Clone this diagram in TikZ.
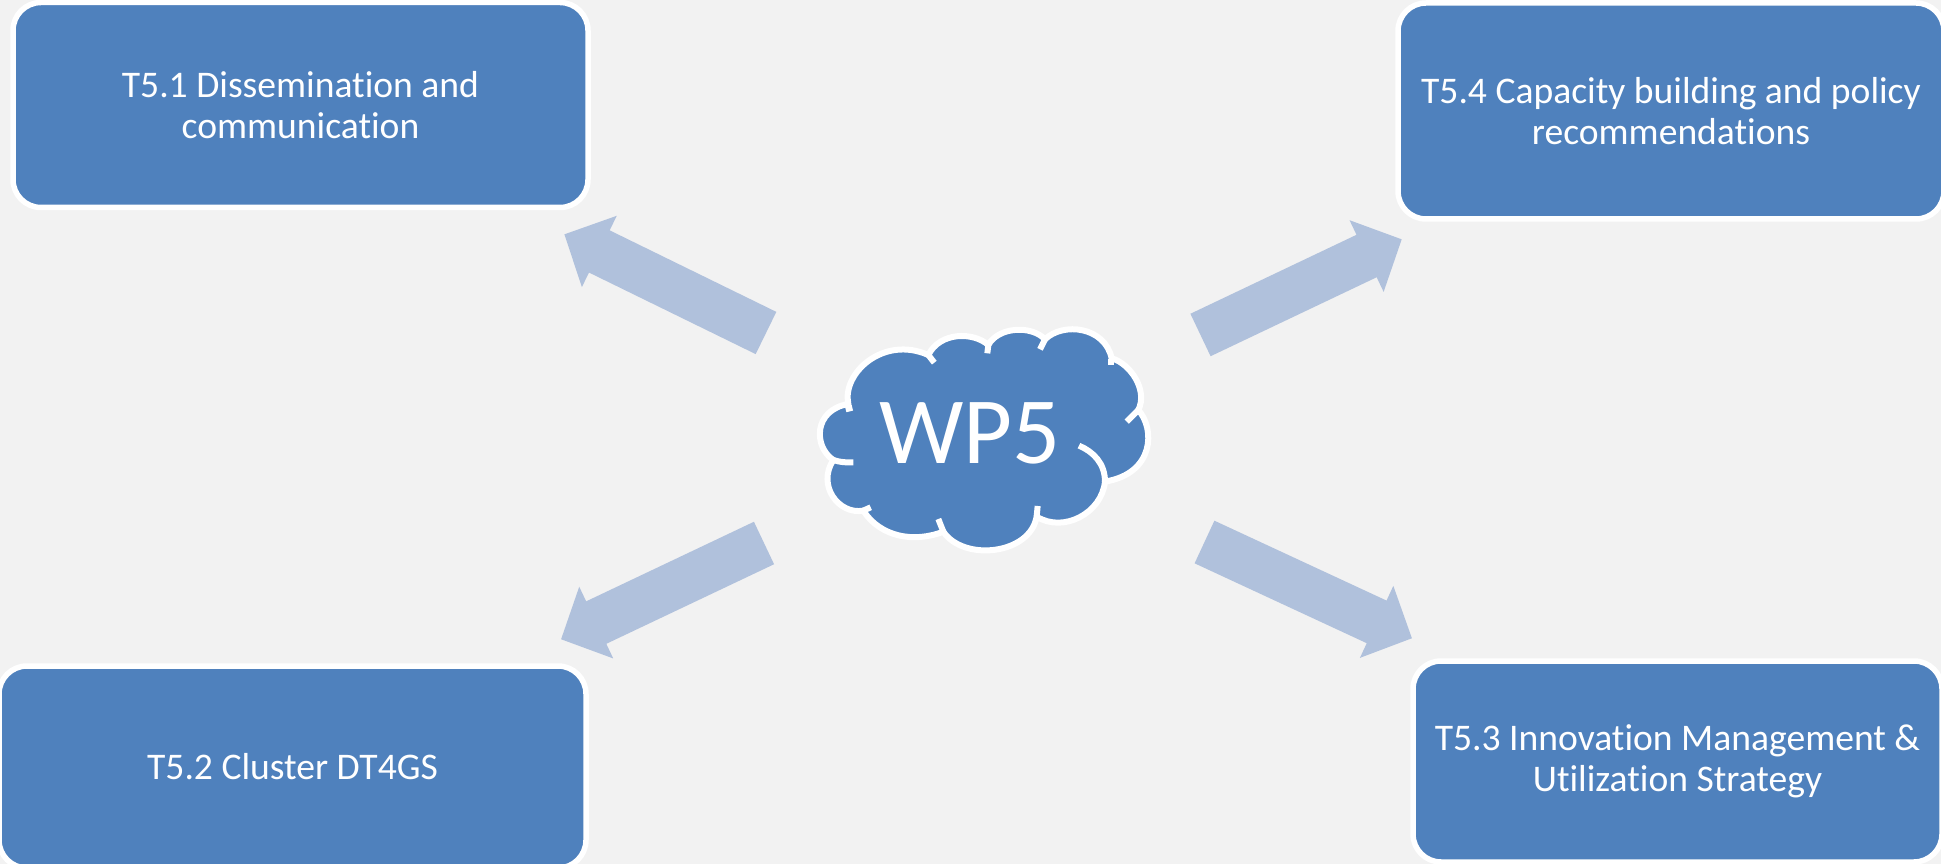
\documentclass[tikz,border=0pt]{standalone}
\usepackage{fontspec}
\setmainfont{Carlito}[Ligatures=NoCommon]
\usetikzlibrary{calc}
\usetikzlibrary{arrows.meta}
\definecolor{taskBlue}{HTML}{4F81BD}
\definecolor{arrowBlue}{HTML}{B0C1DC}
\definecolor{pageGrey}{HTML}{F2F2F2}
\tikzset{taskbox/.style={draw=white, fill=taskBlue, text=white, line width=5.5*0.02cm, rounded corners=28*0.02cm, outer sep=0pt, align=center, font=\fontsize{21.4}{23.3}\selectfont}}
\tikzset{blockarrow/.style={draw=arrowBlue, line width=47*0.02cm, -{Triangle[length=39*0.02cm, width=77*0.02cm]}}}
\tikzset{cloudline/.style={draw=white, line width=6*0.02cm}}
\begin{document}
\begin{tikzpicture}[x=0.02cm,y=-0.02cm]
            \fill[pageGrey] (0,0) rectangle (1941,864);
            \useasboundingbox (0,0) rectangle (1941,864);
            \node[taskbox, minimum width=575*0.02cm, minimum height=205*0.02cm] (t51) at (300.5,105) {T5.1 Dissemination and\\communication};
            \node[taskbox, minimum width=587*0.02cm, minimum height=202*0.02cm] (t52) at (292.5,767) {T5.2 Cluster DT4GS};
            \node[taskbox, minimum width=529*0.02cm, minimum height=201*0.02cm] (t53) at (1677.5,761.5) {T5.3 Innovation Management \&\\Utilization Strategy};
            \node[taskbox, minimum width=546*0.02cm, minimum height=216*0.02cm] (t54) at (1671,111) {T5.4 Capacity building and policy\\recommendations};

            \coordinate (tail1) at (766,333);
            \coordinate (head1) at (564.3,234.3);
            \coordinate (tail2) at (764,543);
            \coordinate (head2) at (561,639.3);
            \coordinate (tail3) at (1204.5,542);
            \coordinate (head3) at (1412,638.3);
            \coordinate (tail4) at (1200.5,335);
            \coordinate (head4) at (1401.8,239.3);
            \draw[blockarrow] (tail1) -- (head1);
            \draw[blockarrow] (tail2) -- (head2);
            \draw[blockarrow] (tail3) -- (head3);
            \draw[blockarrow] (tail4) -- (head4);

            \begin{scope}[shift={(780,300)},x=0.02cm/3,y=-0.02cm/3]
                \path[cloudline, fill=taskBlue] (205,312) .. controls (185,220) and (310,105) .. (445,165)
                    .. controls (480,95) and (580,95) .. (625,135)
                    .. controls (655,80) and (755,75) .. (795,118)
                    .. controls (850,65) and (975,80) .. (995,175)
                    .. controls (1050,190) and (1105,270) .. (1075,330)
                    .. controls (1125,385) and (1125,520) .. (975,545)
                    .. controls (965,640) and (850,700) .. (770,650)
                    .. controls (750,765) and (550,785) .. (490,695)
                    .. controls (400,730) and (300,710) .. (250,632)
                    .. controls (175,645) and (110,555) .. (160,480)
                    .. controls (100,440) and (100,330) .. (205,312) -- cycle;
                \draw[cloudline] (445,165) -- (463,188);
                \draw[cloudline] (625,135) -- (622,160);
                \draw[cloudline] (795,118) -- (780,148);
                \draw[cloudline] (985,187) -- (1003,187);
                \draw[cloudline] (1075,330) -- (1040,365);
                \draw[cloudline] (975,545) .. controls (975,490) and (940,455) .. (897,437);
                \draw[cloudline] (770,650) -- (773,618);
                \draw[cloudline] (490,695) -- (475,657);
                \draw[cloudline] (250,632) -- (272,622);
                \draw[cloudline] (160,480) .. controls (180,487) and (200,488) .. (220,487);
                \draw[cloudline] (197,328) -- (217,323);
            \end{scope}
            \node[text=white, font=\fontsize{54}{60}\selectfont] (wp5) at (970,433) {WP5};
        \end{tikzpicture}
\end{document}
